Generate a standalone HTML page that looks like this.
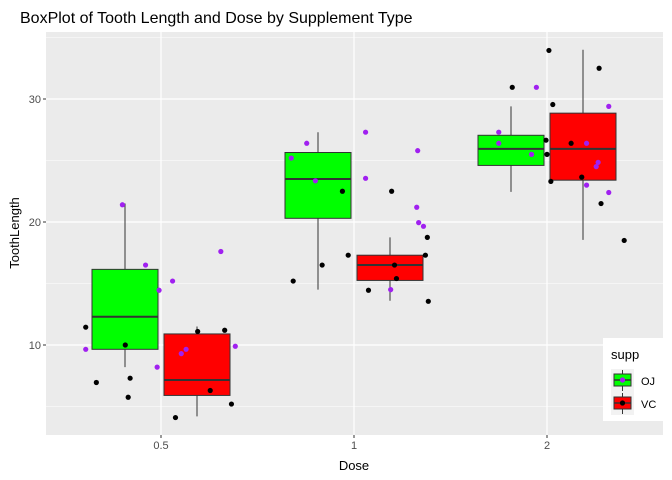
<!DOCTYPE html>
<html><head><meta charset="utf-8"><style>
body{margin:0;background:#fff;}
svg{display:block;font-family:"Liberation Sans",sans-serif;}
</style></head><body>
<svg id="c" width="672" height="480"></svg>
<script>
const doses=["0.5","1","2"];
const supps=["OJ","VC"];
const fills={OJ:"#00FF00",VC:"#FF0000"};
// box stats per [dose][supp]: lowWhisker, q1, median, q3, highWhisker
const boxOJ=[[8.2,9.65,12.3,16.15,21.5],[14.5,20.3,23.5,25.65,27.3],[22.45,24.6,25.95,27.05,29.4]];
const boxVC=[[4.2,5.9,7.15,10.9,11.5],[13.6,15.25,16.5,17.3,18.75],[18.55,23.4,25.95,28.85,34]];
// jittered points: dose index, x offset (category units), value
const ptOJdose=[0,0,0,0,0,0,0,0,0,0,1,1,1,1,1,1,1,1,1,1,2,2,2,2,2,2,2,2,2,2];
const ptOJoff=[-0.2,-0.08,0.06,-0.01,0.31,-0.39,-0.02,0.105,0.13,0.385,-0.245,-0.325,-0.2,0.06,0.33,0.06,0.325,0.335,0.36,0.19,-0.055,-0.25,-0.25,-0.08,0.32,0.205,0.265,0.255,0.205,0.32];
const ptOJval=[21.4,16.5,15.2,14.45,17.6,9.65,8.2,9.3,9.65,9.9,26.4,25.2,23.35,27.3,25.8,23.55,21.2,19.95,19.65,14.5,30.95,27.3,26.4,25.5,29.4,26.4,24.85,24.5,23.0,22.4];
const ptVCdose=[0,0,0,0,0,0,0,0,0,0,1,1,1,1,1,1,1,1,1,1,1,2,2,2,2,2,2,2,2,2,2,2];
const ptVCoff=[-0.39,-0.185,-0.335,-0.16,-0.17,0.19,0.33,0.255,0.365,0.075,-0.06,0.195,0.38,0.37,-0.03,-0.165,0.21,0.22,-0.315,0.075,0.385,0.01,-0.18,0.27,0.03,-0.005,0.0,0.125,0.18,0.02,0.28,0.4];
const ptVCval=[11.45,10.0,6.95,7.3,5.75,11.1,11.2,6.3,5.2,4.1,22.5,22.5,18.75,17.3,17.3,16.5,16.5,15.4,15.2,14.45,13.55,33.95,30.95,32.5,29.55,26.65,25.5,26.4,23.65,23.3,21.5,18.5];
const yTicks=[10,20,30];
const yMinor=[5,15,25,35];

const NS="http://www.w3.org/2000/svg";
const svg=document.getElementById('c');
function mk(tag,attrs,parent){const e=document.createElementNS(NS,tag);for(const k in attrs)e.setAttribute(k,attrs[k]);(parent||svg).appendChild(e);return e;}
const PL=46,PR=663,PT=32,PB=435;
const xS=i=>161+i*193;
const yS=v=>345-(v-10)*12.3;

let e=mk('rect',{x:PL,y:PT,width:PR-PL,height:PB-PT,fill:"#EBEBEB"});


yMinor.forEach(v=>{const y=yS(v);if(y>PT&&y<PB){const l=mk('line',{x1:PL,x2:PR,y1:y,y2:y,stroke:"#fff","stroke-width":0.6});

}});
yTicks.forEach(v=>{const y=yS(v);const l=mk('line',{x1:PL,x2:PR,y1:y,y2:y,stroke:"#fff","stroke-width":1.2});


const t=mk('line',{x1:PL-3,x2:PL,y1:y,y2:y,stroke:"#333"});


const tx=mk('text',{x:PL-5,y:y+4,"text-anchor":"end","font-size":11,fill:"#4D4D4D"});tx.textContent=v;

});
doses.forEach((d,i)=>{const x=xS(i);const l=mk('line',{x1:x,x2:x,y1:PT,y2:PB,stroke:"#fff","stroke-width":1.2});


const t=mk('line',{x1:x,x2:x,y1:PB,y2:PB+3,stroke:"#333"});


const tx=mk('text',{x:x,y:PB+14,"text-anchor":"middle","font-size":11,fill:"#4D4D4D"});tx.textContent=d;

});

function drawBox(st,i,s,off){
  const cx=xS(i)+off,w=66,g=mk('g',{});
  
  
  mk('line',{x1:cx,x2:cx,y1:yS(st[0]),y2:yS(st[4]),stroke:"#333","stroke-width":1},g);
  mk('rect',{x:cx-w/2,y:yS(st[3]),width:w,height:yS(st[1])-yS(st[3]),fill:fills[s],stroke:"#333","stroke-width":1},g);
  mk('line',{x1:cx-w/2,x2:cx+w/2,y1:yS(st[2]),y2:yS(st[2]),stroke:"#333","stroke-width":2},g);
}
doses.forEach((d,i)=>{drawBox(boxOJ[i],i,"OJ",-36);drawBox(boxVC[i],i,"VC",36);});
function pts(ds,of,vs,col,s){ds.forEach((d,k)=>{const c=mk('circle',{cx:xS(d)+of[k]*193,cy:yS(vs[k]),r:2.6,fill:col});

});}
pts(ptOJdose,ptOJoff,ptOJval,"#A020F0","OJ");
pts(ptVCdose,ptVCoff,ptVCval,"#000","VC");

let t=mk('text',{x:20,y:23,"font-size":16,fill:"#000"});t.textContent="BoxPlot of Tooth Length and Dose by Supplement Type";


t=mk('text',{x:354,y:470,"text-anchor":"middle","font-size":13,fill:"#000"});t.textContent="Dose";


t=mk('text',{x:0,y:0,"text-anchor":"middle","font-size":13,fill:"#000",transform:"translate(19,233) rotate(-90)"});t.textContent="ToothLength";



const lg=mk('g',{});


mk('rect',{x:603,y:338,width:69,height:83,fill:"#fff"},lg);
t=mk('text',{x:611,y:359,"font-size":13,fill:"#000"},lg);t.textContent="supp";
supps.forEach((s,k)=>{const y0=369+k*23;const g=mk('g',{},lg);


mk('rect',{x:611,y:y0,width:23,height:23,fill:"#F2F2F2"},g);
mk('line',{x1:622.5,x2:622.5,y1:y0+1,y2:y0+22,stroke:"#333"},g);
mk('rect',{x:614,y:y0+5,width:17,height:12,fill:fills[s],stroke:"#333"},g);
mk('line',{x1:614,x2:631,y1:y0+11,y2:y0+11,stroke:"#333","stroke-width":1.5},g);
mk('circle',{cx:622.5,cy:y0+11,r:2.6,fill:s=="OJ"?"#A020F0":"#000"},g);
const tx=mk('text',{x:641,y:y0+16,"font-size":11,fill:"#000"},g);tx.textContent=s;});
</script>
</body></html>
